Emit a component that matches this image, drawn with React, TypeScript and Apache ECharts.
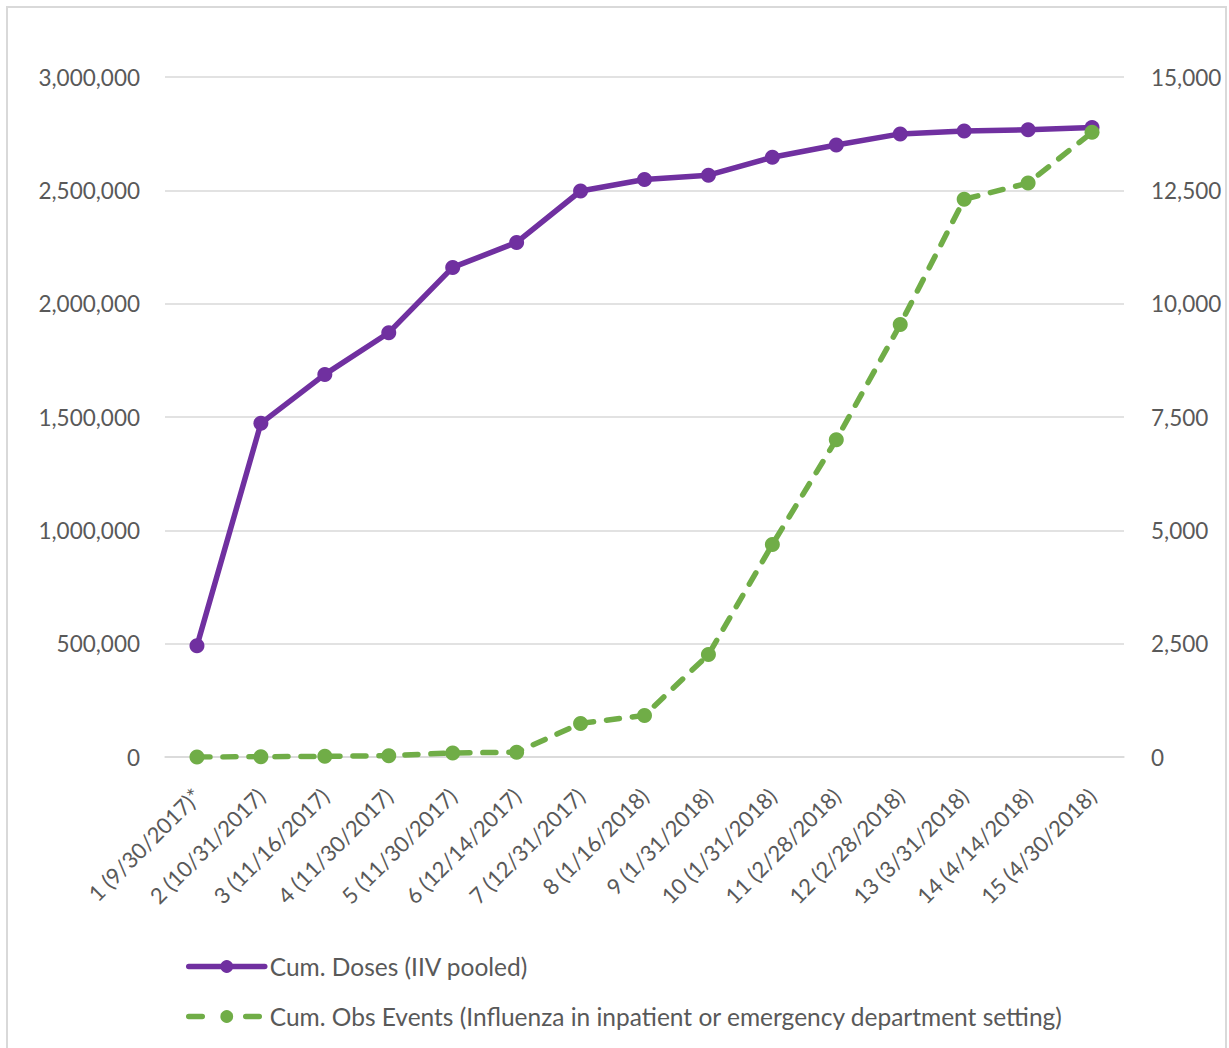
import React, { useEffect, useRef } from "react";
import * as echarts from "echarts";

// Reporting periods (x-axis)
const periods = [
  "1 (9/30/2017)*",
  "2 (10/31/2017)",
  "3 (11/16/2017)",
  "4 (11/30/2017)",
  "5 (11/30/2017)",
  "6 (12/14/2017)",
  "7 (12/31/2017)",
  "8 (1/16/2018)",
  "9 (1/31/2018)",
  "10 (1/31/2018)",
  "11 (2/28/2018)",
  "12 (2/28/2018)",
  "13 (3/31/2018)",
  "14 (4/14/2018)",
  "15 (4/30/2018)",
];

// Cumulative doses, left axis
const cumDoses = [
  491000, 1472000, 1688000, 1872000, 2160000, 2270000, 2497000, 2548000,
  2567000, 2646000, 2700000, 2749000, 2762000, 2767000, 2777000,
];

// Cumulative observed events, right axis
const cumEvents = [
  0, 5, 15, 30, 90, 105, 741, 918, 2260, 4690, 7000, 9540, 12303, 12660, 13779,
];

const dosesName = "Cum. Doses (IIV pooled)";
const eventsName =
  "Cum. Obs Events (Influenza in inpatient or emergency department setting)";

const fontFamily = "Lato, 'Open Sans', sans-serif";
const textColor = "#595959";
const gridColor = "#d9d9d9";
const purple = "#7030a0";
const green = "#70ad47";

const fmt = (v: number) => v.toLocaleString("en-US");

export default function App() {
  const ref = useRef<HTMLDivElement>(null);

  useEffect(() => {
    if (!ref.current) return;
    const chart = echarts.init(ref.current, null, { renderer: "svg" });
    chart.setOption({
      animation: false,
      backgroundColor: "#ffffff",
      textStyle: { fontFamily },
      graphic: [
        {
          type: "rect",
          shape: { x: 7, y: 7, width: 1219, height: 1060 },
          style: { fill: "none", stroke: gridColor, lineWidth: 2 },
          silent: true,
        },
      ],
      grid: { left: 165, right: 105, top: 77, bottom: 291 },
      legend: {
        orient: "vertical",
        left: 181,
        top: 949,
        itemWidth: 76,
        itemHeight: 16,
        itemGap: 25,
        textStyle: { color: textColor, fontSize: 24.5, fontFamily },
        data: [
          { name: dosesName, lineStyle: { width: 5.5 } },
          { name: eventsName, lineStyle: { width: 5.5, type: [13.5, 43.5] } },
        ],
      },
      xAxis: {
        type: "category",
        data: periods,
        boundaryGap: true,
        axisLine: { show: true, lineStyle: { color: gridColor, width: 1.5 } },
        axisTick: { show: false },
        axisLabel: {
          interval: 0,
          rotate: 45,
          margin: 35,
          color: textColor,
          fontSize: 22,
          fontFamily,
        },
      },
      yAxis: [
        {
          type: "value",
          min: 0,
          max: 3000000,
          interval: 500000,
          axisLine: { show: false },
          axisTick: { show: false },
          splitLine: { lineStyle: { color: gridColor, width: 1.5 } },
          axisLabel: {
            margin: 25,
            color: textColor,
            fontSize: 22.5,
            fontFamily,
            formatter: (v: number) => fmt(v),
          },
        },
        {
          type: "value",
          min: 0,
          max: 15000,
          interval: 2500,
          position: "right",
          axisLine: { show: false },
          axisTick: { show: false },
          splitLine: { show: false },
          axisLabel: {
            margin: 27,
            color: textColor,
            fontSize: 22.5,
            fontFamily,
            formatter: (v: number) => fmt(v),
          },
        },
      ],
      series: [
        {
          name: dosesName,
          type: "line",
          yAxisIndex: 0,
          data: cumDoses,
          symbol: "circle",
          symbolSize: 15,
          itemStyle: { color: purple },
          lineStyle: { color: purple, width: 5.5, cap: "round", join: "round" },
          z: 3,
        },
        {
          name: eventsName,
          type: "line",
          yAxisIndex: 1,
          data: cumEvents,
          symbol: "circle",
          symbolSize: 15,
          itemStyle: { color: green },
          lineStyle: {
            color: green,
            width: 5.5,
            type: [13, 13],
            cap: "round",
            join: "round",
          },
          z: 4,
        },
      ],
    });
    return () => chart.dispose();
  }, []);

  return (
    <div
      ref={ref}
      style={{
        position: "fixed",
        left: 0,
        top: 0,
        width: 1229,
        height: 1048,
        background: "#ffffff",
      }}
    />
  );
}
